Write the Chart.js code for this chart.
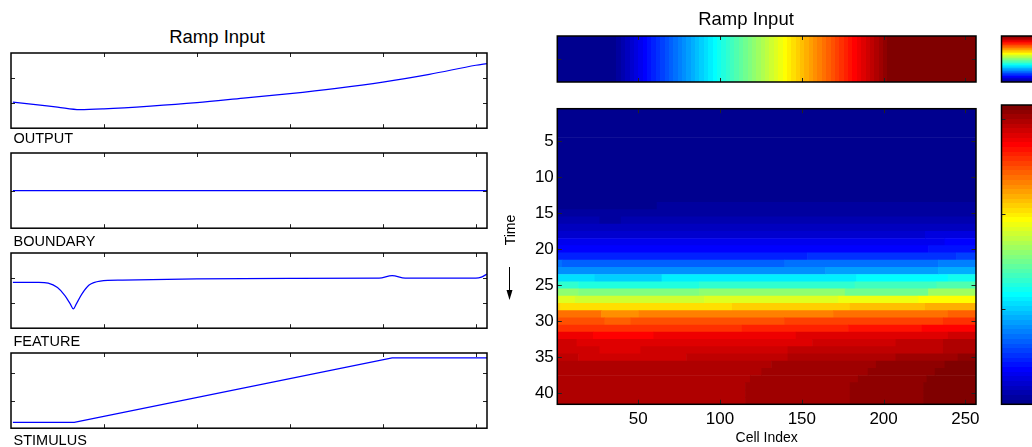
<!DOCTYPE html>
<html><head><meta charset="utf-8">
<script src="https://cdn.jsdelivr.net/npm/chart.js@4.4.1/dist/chart.umd.min.js"></script>
<style>
html,body{margin:0;padding:0;background:#fff;width:1032px;height:447px;overflow:hidden;position:relative;font-family:"Liberation Sans",Arial,Helvetica,sans-serif;}
canvas{position:absolute;}
.t{position:absolute;white-space:nowrap;color:#000;}
</style></head><body>
<canvas id="p0"></canvas><canvas id="p1"></canvas><canvas id="p2"></canvas><canvas id="p3"></canvas>
<canvas id="strip"></canvas><canvas id="heat"></canvas><canvas id="cbs"></canvas><canvas id="cbl"></canvas>
<script>
// ---------------- DATA ----------------
const cellTicks = [50, 100, 150, 200, 250];
const timeTicks = [5, 10, 15, 20, 25, 30, 35, 40];
const panelNames = ['OUTPUT', 'BOUNDARY', 'FEATURE', 'STIMULUS'];
const titleText = 'Ramp Input';

const outputX = [1, 12, 25, 37, 50, 75, 100, 125, 150, 175, 200, 225, 250, 256];
const outputY = [1.04, 0.95, 0.84, 0.74, 0.77, 0.88, 1.02, 1.2, 1.38, 1.59, 1.84, 2.15, 2.51, 2.58];

const boundaryX = [1, 256];
const boundaryY = [0, 0];

const featureX = [1, 15, 20, 25, 29, 32, 33.5, 35, 38, 42, 48, 60, 100, 150, 198, 205, 212, 250, 253, 256];
const featureY = [1.83, 1.83, 1.8, 1.62, 1.3, 0.95, 0.77, 0.95, 1.35, 1.72, 1.88, 1.92, 1.97, 1.99, 2.0, 2.1, 2.0, 2.0, 2.04, 2.16];

const stimulusX = [1, 34, 205, 256];
const stimulusY = [0.21, 0.21, 2.57, 2.57];

const colorbarTicks = [1, 2, 3];

// heat map: one entry per time row, each a list of [first cell, jet(64) colour level]
const heatRows = [
  [[1,0]],[[1,0]],[[1,0]],[[1,0]],[[1,0]],[[1,0]],[[1,0]],[[1,0]],[[1,0]],[[1,0]],[[1,0]],[[1,0]],[[1,0]],
  [[1,0],[62,1]],
  [[1,1]],
  [[1,2],[27,1],[40,2]],
  [[1,3]],
  [[1,4],[226,5]],
  [[1,6],[238,7]],
  [[1,7],[228,8]],
  [[1,9],[154,10],[245,11]],
  [[1,14],[4,13],[140,14],[234,15]],
  [[1,16],[165,17],[234,18]],
  [[1,21],[24,20],[65,22],[184,23],[240,24]],
  [[1,26],[14,25],[88,26],[183,27],[233,28]],
  [[1,32],[14,31],[88,32],[177,30],[228,33]],
  [[1,37],[12,36],[91,37],[173,38],[222,39]],
  [[1,42],[3,41],[108,42],[180,43],[226,44]],
  [[1,48],[28,46],[51,47],[170,48],[240,49]],
  [[1,50],[30,49],[46,50],[140,51],[237,52]],
  [[1,52],[114,53],[179,54],[224,55]],
  [[1,56],[23,55],[60,56],[147,57],[240,58]],
  [[1,58],[13,57],[157,58],[208,59],[237,60]],
  [[1,58],[27,57],[52,58],[142,59],[237,60]],
  [[1,59],[14,58],[80,59],[142,60],[208,61],[246,62]],
  [[1,60],[132,61],[196,62],[238,63]],
  [[1,60],[126,61],[191,62],[232,63]],
  [[1,60],[119,61],[185,62],[227,63]],
  [[1,60],[116,61],[180,62],[225,63]],
  [[1,60],[116,61],[180,62],[225,63]],
  [[1,60],[116,61],[180,62],[225,63]]
];

// ---------------- helpers ----------------
Chart.defaults.font.family = '"Liberation Sans", Arial, Helvetica, sans-serif';
Chart.defaults.color = '#000';

// MATLAB jet(64)
const JU = [];
for (let i = 1; i <= 16; i++) JU.push(i / 16);
for (let i = 0; i < 15; i++) JU.push(1);
for (let i = 16; i >= 1; i--) JU.push(i / 16);
function jet64(L) {
  const row = L + 1;
  const pick = s => { const k = row - s; return (k >= 0 && k < JU.length) ? JU[k] : 0; };
  return 'rgb(' + Math.round(255 * pick(25)) + ',' + Math.round(255 * pick(9)) + ',' + Math.round(255 * pick(-7)) + ')';
}

const boxPlugin = {
  id: 'matlabBox',
  afterDatasetsDraw(chart, args, opts) {
    const ctx = chart.ctx, a = chart.chartArea;
    const xs = chart.scales.x, ys = chart.scales.y;
    const len = opts.len || 4;
    ctx.save();
    ctx.strokeStyle = '#222';
    ctx.lineWidth = 1;
    ctx.beginPath();
    (opts.xTicks || []).forEach(v => {
      const p = Math.round(xs.getPixelForValue(v)) + 0.5;
      ctx.moveTo(p, a.bottom); ctx.lineTo(p, a.bottom - len);
      ctx.moveTo(p, a.top); ctx.lineTo(p, a.top + len);
    });
    (opts.yTicks || []).forEach(v => {
      const p = Math.round(ys.getPixelForValue(v)) + 0.5;
      ctx.moveTo(a.left, p); ctx.lineTo(a.left + len, p);
      ctx.moveTo(a.right, p); ctx.lineTo(a.right - len, p);
    });
    ctx.stroke();
    ctx.strokeStyle = '#000';
    ctx.lineWidth = 1.5;
    ctx.strokeRect(a.left, a.top, a.right - a.left, a.bottom - a.top);
    ctx.restore();
  }
};

function addText(txt, x, base, size, align) {
  const d = document.createElement('div');
  d.className = 't';
  d.textContent = txt;
  d.style.fontSize = size + 'px';
  d.style.lineHeight = size + 'px';
  d.style.top = (base - size * 0.8465) + 'px';
  d.style.left = x + 'px';
  if (align === 'center') d.style.transform = 'translateX(-50%)';
  document.body.appendChild(d);
}

function place(cv, left, top, w, h) {
  cv.width = w; cv.height = h;
  cv.style.left = left + 'px'; cv.style.top = top + 'px';
}

// ---------------- left panels ----------------
const panelDefs = [
  {xs: outputX, ys: outputY, min: 0, max: 3, yt: [1, 2], smooth: true},
  {xs: boundaryX, ys: boundaryY, min: -1, max: 1, yt: [0], smooth: false},
  {xs: featureX, ys: featureY, min: 0, max: 3, yt: [1, 2], smooth: true},
  {xs: stimulusX, ys: stimulusY, min: 0, max: 2.745, yt: [1, 2], smooth: false}
];
const labelBase = [143.3, 246, 345.8, 445];
panelDefs.forEach((p, i) => {
  const top = 52.5 + 100 * i;
  const cv = document.getElementById('p' + i);
  place(cv, 5, top - 6, 490, 88);
  new Chart(cv, {
    type: 'line',
    data: {datasets: [{
      data: p.xs.map((x, k) => ({x: x, y: p.ys[k]})),
      borderColor: 'rgb(0,0,255)', borderWidth: 1.2, pointRadius: 0, fill: false,
      tension: 0, cubicInterpolationMode: p.smooth ? 'monotone' : 'default'
    }]},
    options: {
      responsive: false, animation: false, events: [],
      layout: {padding: {left: 6, right: 8, top: 6, bottom: 88 - 6 - 75.2}},
      scales: {
        x: {type: 'linear', display: false, min: 0, max: 256},
        y: {type: 'linear', display: false, min: p.min, max: p.max}
      },
      plugins: {legend: {display: false}, tooltip: {enabled: false},
        matlabBox: {xTicks: cellTicks, yTicks: p.yt, len: 4}}
    },
    plugins: [boxPlugin]
  });
  addText(panelNames[i], 13.5, labelBase[i], 14.5, 'left');
});
addText(titleText, 217, 43.3, 18.5, 'center');
addText(titleText, 746, 25.3, 18.5, 'center');

// ---------------- stimulus strip ----------------
function stimulusGradient(chart) {
  const a = chart.chartArea, xs = chart.scales.x;
  const g = chart.ctx.createLinearGradient(a.left, 0, a.right, 0);
  const cmin = Math.min(...stimulusY), cmax = Math.max(...stimulusY);
  const lev = v => Math.min(63, Math.max(0, Math.floor((v - cmin) / (cmax - cmin) * 64)));
  const frac = x => Math.max(0, Math.min(1, (xs.getPixelForValue(x) - a.left) / (a.right - a.left)));
  const segs = [];
  const push = (x, L) => { if (!segs.length || segs[segs.length - 1][1] !== L) segs.push([x, L]); };
  push(0.5, lev(stimulusY[0]));
  for (let i = 0; i < stimulusX.length - 1; i++) {
    const x0 = stimulusX[i], x1 = stimulusX[i + 1], v0 = stimulusY[i], v1 = stimulusY[i + 1];
    if (v0 === v1) { push(x0, lev(v0)); continue; }
    const L0 = lev(v0), L1 = lev(v1), st = L1 > L0 ? 1 : -1;
    for (let L = L0 + st; st > 0 ? L <= L1 : L >= L1; L += st) {
      const vb = cmin + (st > 0 ? L : L + 1) * (cmax - cmin) / 64;
      push(x0 + (vb - v0) / (v1 - v0) * (x1 - x0), L);
    }
  }
  for (let i = 0; i < segs.length; i++) {
    const xa = segs[i][0], xb = i + 1 < segs.length ? segs[i + 1][0] : 256.5;
    const c = jet64(segs[i][1]);
    g.addColorStop(frac(xa), c);
    g.addColorStop(frac(xb), c);
  }
  return g;
}
{
  const cv = document.getElementById('strip');
  place(cv, 500, 28, 500, 62);
  new Chart(cv, {
    type: 'bar',
    data: {datasets: [{data: [{x: [0.5, 256.5], y: 1}], borderWidth: 0,
      backgroundColor: c => c.chart.chartArea ? stimulusGradient(c.chart) : '#000',
      barPercentage: 1, categoryPercentage: 1}]},
    options: {
      indexAxis: 'y', responsive: false, animation: false, events: [],
      layout: {padding: {left: 57.3, right: 24, top: 8, bottom: 8}},
      scales: {
        x: {type: 'linear', display: false, min: 0.5, max: 256.5, offset: false},
        y: {type: 'linear', display: false, min: 0.5, max: 1.5, offset: false, grid: {offset: false},
          afterBuildTicks: s => { s.ticks = [{value: 1}]; }}
      },
      plugins: {legend: {display: false}, tooltip: {enabled: false},
        matlabBox: {xTicks: cellTicks, yTicks: [1], len: 4}}
    },
    plugins: [boxPlugin]
  });
}

// ---------------- heat map ----------------
const heatData = [];
heatRows.forEach((segs, r) => {
  segs.forEach((s, k) => {
    const end = k + 1 < segs.length ? segs[k + 1][0] - 1 : 256;
    heatData.push({x: [s[0] - 0.5, end + 0.5], y: r + 1, l: s[1]});
  });
});
const timeLabel = {
  id: 'timeLabel',
  afterDraw(chart) {
    const ctx = chart.ctx;
    ctx.save();
    ctx.fillStyle = '#000';
    ctx.font = '14px "Liberation Sans", Arial, sans-serif';
    ctx.translate(11.5, 135);
    ctx.rotate(-Math.PI / 2);
    ctx.textAlign = 'center';
    ctx.textBaseline = 'middle';
    ctx.fillText('Time', 0, 0);
    ctx.restore();
    ctx.save();
    ctx.strokeStyle = '#000'; ctx.fillStyle = '#000'; ctx.lineWidth = 1;
    ctx.beginPath(); ctx.moveTo(9.5, 172); ctx.lineTo(9.5, 197); ctx.stroke();
    ctx.beginPath(); ctx.moveTo(6.5, 195); ctx.lineTo(12.5, 195); ctx.lineTo(9.5, 205); ctx.closePath(); ctx.fill();
    ctx.restore();
  }
};
{
  const cv = document.getElementById('heat');
  place(cv, 500, 95, 500, 352);
  new Chart(cv, {
    type: 'bar',
    data: {datasets: [{data: heatData, borderWidth: 0,
      backgroundColor: c => (c.raw ? jet64(c.raw.l) : '#000'),
      barPercentage: 1, categoryPercentage: 1}]},
    options: {
      indexAxis: 'y', responsive: false, animation: false, events: [],
      layout: {padding: {left: 0, right: 24, top: 10, bottom: 0}},
      scales: {
        x: {type: 'linear', min: 0.5, max: 256.5, offset: false,
          afterBuildTicks: s => { s.ticks = cellTicks.map(v => ({value: v})); },
          afterFit: s => { s.height = 42.7; },
          grid: {display: false, drawTicks: false}, border: {display: false},
          ticks: {font: {size: 17}, color: '#000', padding: 4.5, maxRotation: 0, autoSkip: false},
          title: {display: true, text: 'Cell Index', font: {size: 14}, color: '#000', padding: {top: 0, bottom: 0}}},
        y: {type: 'linear', reverse: true, min: 0.5, max: 41.5, offset: false,
          afterBuildTicks: s => { s.ticks = timeTicks.map(v => ({value: v})); },
          afterFit: s => { s.width = 57.3; },
          grid: {display: false, drawTicks: false, offset: false}, border: {display: false},
          ticks: {font: {size: 17}, color: '#000', padding: 3.5, autoSkip: false}}
      },
      plugins: {legend: {display: false}, tooltip: {enabled: false},
        matlabBox: {xTicks: cellTicks, yTicks: timeTicks, len: 4.5}}
    },
    plugins: [boxPlugin, timeLabel]
  });
}

// ---------------- colour bars ----------------
function jetVertical(chart) {
  const a = chart.chartArea;
  const g = chart.ctx.createLinearGradient(0, a.bottom, 0, a.top);
  for (let L = 0; L < 64; L++) {
    g.addColorStop(L / 64, jet64(L));
    g.addColorStop((L + 1) / 64, jet64(L));
  }
  return g;
}
function makeColorbar(id, top, h, padTop, padBottom, maxV, ticks) {
  const cv = document.getElementById(id);
  place(cv, 990, top, 80, h);
  new Chart(cv, {
    type: 'bar',
    data: {labels: ['c'], datasets: [{data: [[0, maxV]], borderWidth: 0,
      backgroundColor: c => c.chart.chartArea ? jetVertical(c.chart) : '#000',
      barPercentage: 1, categoryPercentage: 1}]},
    options: {
      responsive: false, animation: false, events: [],
      layout: {padding: {left: 11.5, right: 25, top: padTop, bottom: padBottom}},
      scales: {
        x: {type: 'category', display: false},
        y: {type: 'linear', display: false, min: 0, max: maxV}
      },
      plugins: {legend: {display: false}, tooltip: {enabled: false},
        matlabBox: {xTicks: [], yTicks: ticks, len: 4}}
    },
    plugins: [boxPlugin]
  });
}
makeColorbar('cbs', 28, 62, 8, 8, 1, []);
makeColorbar('cbl', 95, 352, 10, 42.7, 3.15, colorbarTicks);
</script>
</body></html>
